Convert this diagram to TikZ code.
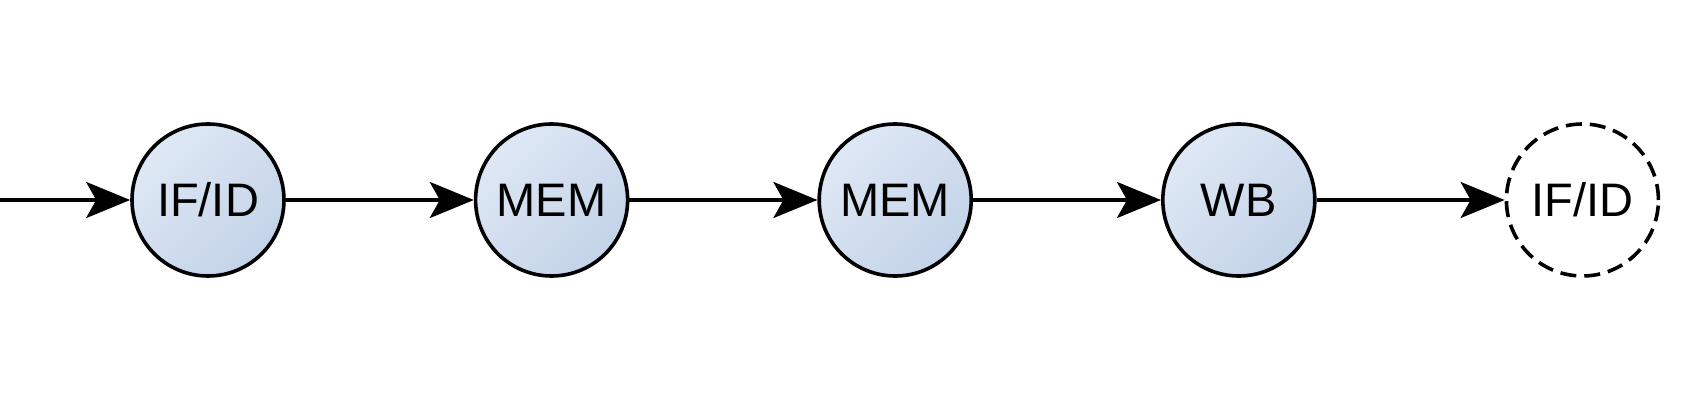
\documentclass[tikz,border=0pt]{standalone}
\usepackage{fontspec}
\setmainfont{Liberation Sans}
\usetikzlibrary{arrows.meta,
                chains,
                positioning}

\definecolor{stagetop}{HTML}{DFE8F5}
\definecolor{stagebot}{HTML}{C3D3E8}

\begin{document}
\begin{tikzpicture}[
            node distance = 94pt,
            start chain = S going right,
            base/.style = {draw, circle, line width=1.8pt, minimum size=76pt,
                    inner sep=0pt, font=\fontsize{23.5}{28}\selectfont, on chain=S},
            stage/.style = {base, top color=stagetop, bottom color=stagebot,
                    shading angle=45},
            nextstage/.style = {base, dash pattern=on 8pt off 4pt},
            every edge/.style = {draw, line width=1.8pt,
                    -{Stealth[length=22pt, width=18pt, inset=5pt]}}]
        \useasboundingbox (0,0) rectangle (848.5pt,206.5pt);

        \node [stage] at (104pt,106.5pt) {IF/ID}; % S-1
        \node [stage]           {MEM}; % S-2
        \node [stage]           {MEM}; % S-3
        \node [stage]           {WB}; % S-4
        \node [nextstage]       {IF/ID}; % S-5

        % In
        \coordinate (in) at (0,106.5pt);
        %%
        \draw
        (in) edge (S-1)
        (S-1) edge (S-2)
        (S-2) edge (S-3)
        (S-3) edge (S-4)
        (S-4) edge (S-5);
    \end{tikzpicture}
\end{document}
